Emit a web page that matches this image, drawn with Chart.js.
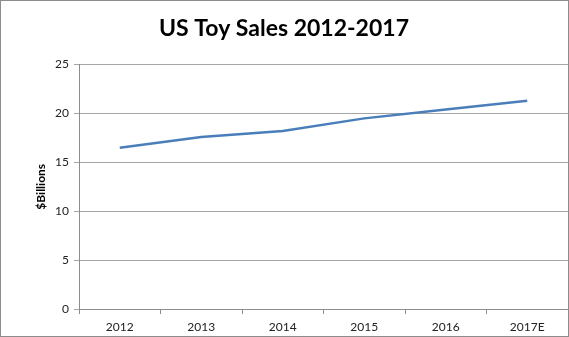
<!DOCTYPE html>
<html>
<head>
<meta charset="utf-8">
<script src="https://cdn.jsdelivr.net/npm/chart.js@4"></script>
<style>
  body { margin: 0; background: #fff; }
  canvas { display: block; }
</style>
</head>
<body>
<canvas id="toyChart" width="569" height="337"></canvas>
<script>
const years = ['2012', '2013', '2014', '2015', '2016', '2017E'];
const sales = [16.5, 17.6, 18.2, 19.5, 20.4, 21.3];
const yTicks = [0, 5, 10, 15, 20, 25];

const borderBox = {
    id: 'borderBox',
    afterDraw(chart) {
        const ctx = chart.ctx;
        ctx.save();
        ctx.strokeStyle = '#8c8c8c';
        ctx.lineWidth = 1;
        ctx.strokeRect(0.5, 0.5, chart.width - 1, chart.height - 1);
        ctx.restore();
    }
};

new Chart(document.getElementById('toyChart'), {
    type: 'line',
    data: {
        labels: years,
        datasets: [{
            data: sales,
            borderColor: '#4a7ebb',
            borderWidth: 2.5,
            pointRadius: 0,
            tension: 0,
            fill: false
        }]
    },
    options: {
        responsive: false,
        animation: false,
        layout: { padding: { left: 0, right: 1, top: 0, bottom: 0 } },
        plugins: {
            legend: { display: false },
            tooltip: { enabled: false },
            title: {
                display: true,
                text: 'US Toy Sales 2012-2017',
                color: '#000',
                font: { family: 'Lato', size: 23, weight: 'bold' },
                padding: { top: 15, bottom: 22 }
            }
        },
        scales: {
            x: {
                offset: true,
                grid: { display: true, drawOnChartArea: false, offset: true, color: '#8c8c8c', tickLength: 5 },
                border: { color: '#8c8c8c' },
                ticks: { color: '#222', font: { family: 'Lato', size: 12 }, padding: 6, maxRotation: 0 },
                afterFit(scale) { scale.height = 28; }
            },
            y: {
                min: 0,
                max: 25,
                afterBuildTicks(scale) { scale.ticks = yTicks.map(v => ({ value: v })); },
                grid: { color: '#a6a6a6', tickLength: 5 },
                border: { color: '#8c8c8c' },
                ticks: { color: '#222', font: { family: 'Lato', size: 12 }, padding: 5 },
                title: {
                    display: true,
                    text: '$Billions',
                    color: '#000',
                    font: { family: 'Lato', size: 12, weight: 'bold' },
                    padding: { top: 34, bottom: 8 }
                },
                afterFit(scale) { scale.width = 79; }
            }
        }
    },
    plugins: [borderBox]
});
</script>
</body>
</html>
